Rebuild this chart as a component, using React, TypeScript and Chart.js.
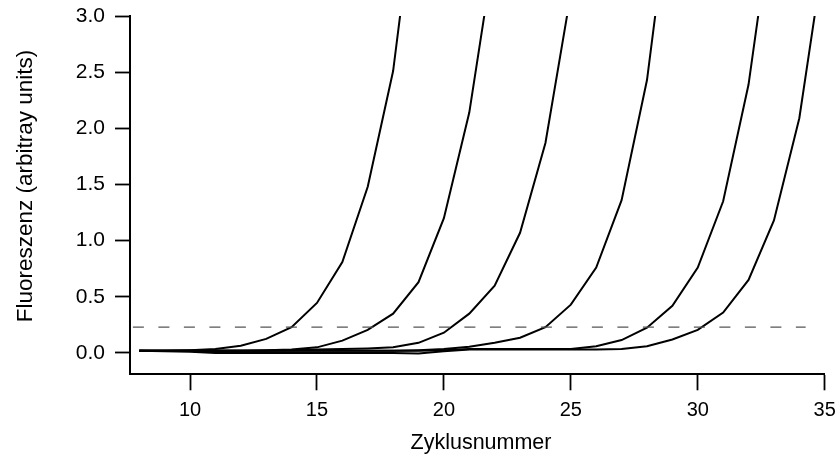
import { useEffect, useRef } from 'react';
import { Chart, registerables } from 'chart.js';

Chart.register(...registerables);

// Cycle number of the first value in every curve
const startCycle = 8;

// Fluorescence per cycle (arbitrary units), one array per sample
const curve1 = [0.02, 0.02, 0.025, 0.035, 0.065, 0.125, 0.23, 0.445, 0.81, 1.48, 2.51, 4.3];
const curve2 = [0.02, 0.02, 0.02, 0.02, 0.02, 0.025, 0.03, 0.05, 0.11, 0.205, 0.35, 0.63, 1.2, 2.14, 3.6];
const curve3 = [0.02, 0.02, 0.02, 0.02, 0.02, 0.02, 0.025, 0.03, 0.035, 0.04, 0.05, 0.09, 0.18, 0.35, 0.6, 1.07, 1.87, 3.2];
const curve4 = [0.02, 0.02, 0.02, 0.02, 0.02, 0.02, 0.02, 0.02, 0.02, 0.02, 0.02, 0.025, 0.035, 0.055, 0.09, 0.135, 0.23, 0.43, 0.76, 1.36, 2.43, 4.2];
const curve5 = [0.02, 0.02, 0.02, 0.02, 0.02, 0.02, 0.02, 0.02, 0.02, 0.02, 0.02, 0.02, 0.025, 0.035, 0.035, 0.035, 0.035, 0.035, 0.06, 0.115, 0.225, 0.42, 0.76, 1.35, 2.39, 4.0];
const curve6 = [0.02, 0.015, 0.01, 0.0, 0.0, 0.0, 0.0, 0.0, 0.0, 0.0, 0.0, -0.005, 0.015, 0.03, 0.03, 0.03, 0.03, 0.03, 0.03, 0.035, 0.06, 0.12, 0.205, 0.36, 0.65, 1.18, 2.09, 3.6];

// Threshold line
const thresholdValue = 0.23;
const thresholdFrom = 7.75;
const thresholdTo = 34.25;

// Axes
const xMin = 7.636;
const xMax = 35;
const yMin = -0.19;
const yMax = 3.0;
const xTicks = [10, 15, 20, 25, 30, 35];
const yTicks = [0, 0.5, 1.0, 1.5, 2.0, 2.5, 3.0];
const xTitle = 'Zyklusnummer';
const yTitle = 'Fluoreszenz (arbitray units)';

const FONT = '"Liberation Sans", Arial, Helvetica, sans-serif';

// Draws the two axis titles where the reference has them
const axisTitlesPlugin = {
  id: 'axisTitles',
  afterDraw(chart: any) {
    const ctx = chart.ctx as CanvasRenderingContext2D;
    ctx.save();
    ctx.fillStyle = '#000000';
    ctx.textBaseline = 'alphabetic';
    ctx.textAlign = 'center';
    ctx.font = `21.5px ${FONT}`;
    ctx.fillText(xTitle, 481, 449);
    ctx.translate(32, 186);
    ctx.rotate(-Math.PI / 2);
    ctx.font = `22.5px ${FONT}`;
    ctx.fillText(yTitle, 0, 0);
    ctx.restore();
  },
};

export default function App() {
  const ref = useRef<HTMLCanvasElement>(null);

  useEffect(() => {
    document.body.style.margin = '0';
    const canvas = ref.current;
    if (!canvas) return;

    const toPoints = (vals: number[]) => vals.map((y, i) => ({ x: startCycle + i, y }));
    const curves = [curve1, curve2, curve3, curve4, curve5, curve6];

    const curveSets = curves.map((c) => ({
      data: toPoints(c),
      borderColor: '#000000',
      borderWidth: 2,
      pointRadius: 0,
      tension: 0,
      fill: false,
    }));

    const thresholdSet = {
      data: [
        { x: thresholdFrom, y: thresholdValue },
        { x: thresholdTo, y: thresholdValue },
      ],
      borderColor: '#555555',
      borderWidth: 1.2,
      borderDash: [11, 14.5],
      pointRadius: 0,
      tension: 0,
      fill: false,
    };

    const chart = new Chart(canvas, {
      type: 'line',
      data: { datasets: [thresholdSet, ...curveSets] as any },
      plugins: [axisTitlesPlugin],
      options: {
        animation: false,
        responsive: false,
        events: [],
        layout: { padding: { top: 16, right: 12.3, left: 0, bottom: 0 } },
        plugins: { legend: { display: false }, tooltip: { enabled: false } },
        scales: {
          x: {
            type: 'linear',
            min: xMin,
            max: xMax,
            afterBuildTicks: (s: any) => {
              s.ticks = xTicks.map((v) => ({ value: v }));
            },
            afterFit: (s: any) => {
              s.height = 79.7;
              s.paddingLeft = 0;
              s.paddingRight = 0;
            },
            grid: {
              drawOnChartArea: false,
              drawTicks: true,
              tickLength: 16,
              tickWidth: 1.8,
              tickColor: '#000000',
              color: '#000000',
            },
            border: { display: true, color: '#000000', width: 2 },
            ticks: {
              color: '#000000',
              font: { family: FONT, size: 20 },
              padding: 8,
              maxRotation: 0,
              callback: (v: any) => String(v),
            },
            title: { display: false },
          },
          y: {
            type: 'linear',
            min: yMin,
            max: yMax,
            afterBuildTicks: (s: any) => {
              s.ticks = yTicks.map((v) => ({ value: v }));
            },
            afterFit: (s: any) => {
              s.width = 130;
              s.paddingTop = 0;
              s.paddingBottom = 0;
            },
            grid: {
              drawOnChartArea: false,
              drawTicks: true,
              tickLength: 15,
              tickWidth: 1.8,
              tickColor: '#000000',
              color: '#000000',
            },
            border: { display: true, color: '#000000', width: 2 },
            ticks: {
              color: '#000000',
              font: { family: FONT, size: 21 },
              padding: 10,
              callback: (v: any) => Number(v).toFixed(1),
            },
            title: { display: false },
          },
        },
      },
    });

    return () => chart.destroy();
  }, []);

  return <canvas ref={ref} width={837} height={454} style={{ display: 'block' }} />;
}
